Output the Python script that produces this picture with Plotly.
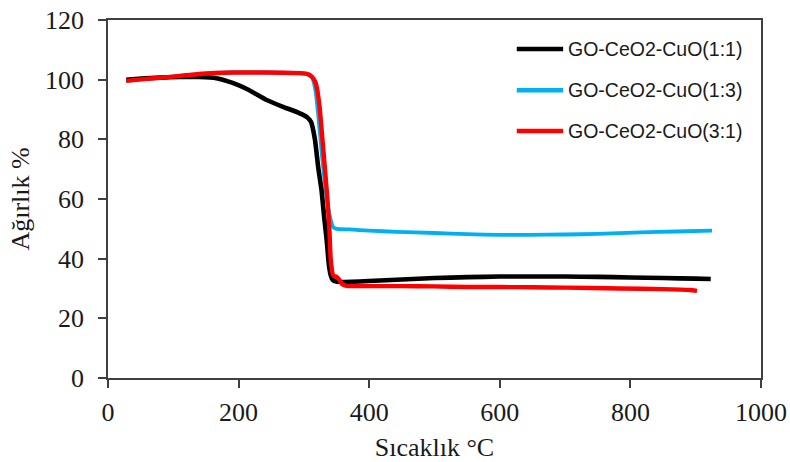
import plotly.graph_objects as go

# GO-CeO2-CuO(1:1)
t_11 = [28, 50, 80, 110, 140, 166, 191, 215, 243, 268, 293, 305, 311, 317, 322, 327, 331, 335, 338, 341, 344, 350, 360, 400, 450, 500, 550, 600, 650, 700, 750, 800, 850, 900, 923]
w_11 = [100.0, 100.4, 100.7, 100.9, 100.9, 100.5, 98.9, 96.6, 93.2, 90.9, 88.8, 87.4, 85.8, 79.8, 70.5, 63.0, 54.0, 46.0, 38.5, 34.5, 32.9, 32.3, 32.2, 32.5, 33.0, 33.5, 33.8, 34.0, 34.0, 34.0, 33.9, 33.7, 33.5, 33.3, 33.2]

# GO-CeO2-CuO(1:3)
t_13 = [28, 50, 89, 140, 191, 243, 293, 305, 313, 318, 322, 328, 334, 340, 345, 350, 370, 400, 442, 500, 550, 600, 646, 700, 750, 815, 870, 925]
w_13 = [99.6, 100.1, 100.8, 101.9, 102.4, 102.4, 102.2, 101.8, 100.5, 96.0, 88.0, 74.0, 62.0, 54.0, 50.5, 50.0, 49.8, 49.4, 49.0, 48.6, 48.2, 48.0, 48.0, 48.1, 48.3, 48.8, 49.1, 49.4]

# GO-CeO2-CuO(3:1)
t_31 = [28, 50, 89, 140, 191, 243, 293, 303, 309, 315, 319, 324, 328, 332, 336, 339, 341, 345, 350, 354, 358, 365, 400, 450, 500, 550, 600, 650, 700, 784, 850, 891, 902]
w_31 = [99.6, 100.1, 100.8, 101.9, 102.4, 102.4, 102.2, 102.0, 101.6, 100.2, 98.2, 91.0, 81.0, 70.7, 60.0, 50.0, 40.0, 34.3, 33.9, 33.0, 31.6, 30.9, 30.8, 30.8, 30.7, 30.5, 30.5, 30.4, 30.3, 30.0, 29.8, 29.5, 29.2]

names = ["GO-CeO2-CuO(1:1)", "GO-CeO2-CuO(1:3)", "GO-CeO2-CuO(3:1)"]
colors = ["#000000", "#00B0F0", "#FF0000"]
widths = [4.6, 3.8, 4.4]

x_ticks = [0, 200, 400, 600, 800, 1000]
y_ticks = [0, 20, 40, 60, 80, 100, 120]

fig = go.Figure()
order = [(t_13, w_13, 1), (t_11, w_11, 0), (t_31, w_31, 2)]
for t, w, i in order:
    fig.add_trace(go.Scatter(x=t, y=w, mode="lines", name=names[i],
                             line=dict(color=colors[i], width=widths[i], shape="spline", smoothing=0.4),
                             showlegend=False))

# manual legend
leg_y = [0.919, 0.804, 0.690]
for i in range(3):
    fig.add_shape(type="line", xref="x domain", yref="y domain",
                  x0=0.626, x1=0.697, y0=leg_y[i], y1=leg_y[i],
                  line=dict(color=colors[i], width=4.5))
    fig.add_annotation(xref="x domain", yref="y domain", x=0.702, y=leg_y[i],
                       text=names[i], showarrow=False, xanchor="left", yanchor="middle",
                       font=dict(family="Liberation Sans, Arial, sans-serif", size=19.5, color="#1a1a1a"))

axis_font = dict(family="Liberation Serif, Times New Roman, serif", size=26, color="#1a1a1a")
fig.update_layout(
    width=790, height=462,
    margin=dict(l=108, r=29, t=20, b=84),
    paper_bgcolor="white", plot_bgcolor="white",
    font=axis_font,
    xaxis=dict(range=[0, 1000], tickvals=x_ticks, ticks="outside", ticklen=8, tickwidth=1.5,
               tickcolor="#404040", showline=True, linecolor="#404040", linewidth=1.5,
               mirror=True, showgrid=False, zeroline=False, tickfont=axis_font, automargin=False,
               ticklabelstandoff=2,
               title=dict(text="Sıcaklık °C", font=axis_font, standoff=17)),
    yaxis=dict(range=[0, 120], tickvals=y_ticks, ticks="outside", ticklen=8, tickwidth=1.5,
               tickcolor="#404040", showline=True, linecolor="#404040", linewidth=1.5,
               mirror=True, showgrid=False, zeroline=False, tickfont=axis_font, automargin=False,
               ticklabelstandoff=9,
               title=dict(text="Ağırlık %", font=axis_font, standoff=8)),
)

fig.write_html("out.html")
